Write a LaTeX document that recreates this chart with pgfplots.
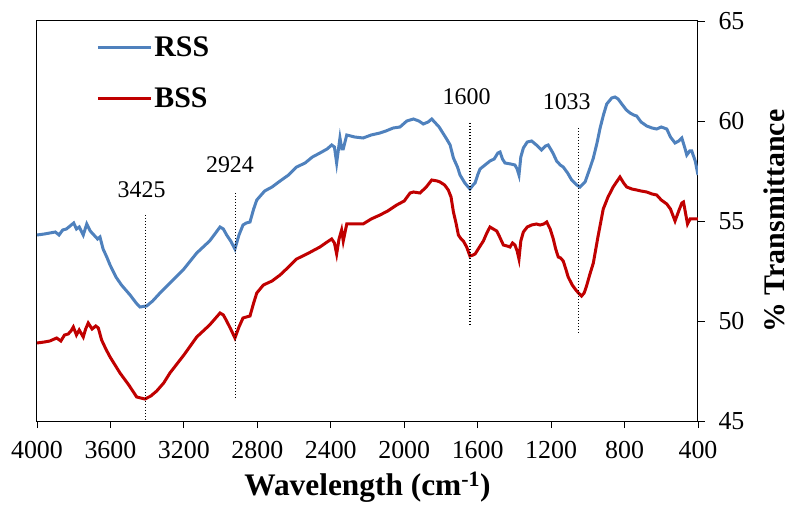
\documentclass[border=0pt]{standalone}
\usepackage{pgfplots}
\pgfplotsset{compat=1.18}
\usepackage{fontspec}
\setmainfont{Liberation Serif}
\definecolor{rssblue}{RGB}{79,129,189}
\definecolor{bssred}{RGB}{192,0,0}
\begin{document}
\begin{tikzpicture}
\useasboundingbox (-37bp,-89bp) rectangle (757bp,421bp);
\begin{axis}[
 scale only axis, width=661bp, height=400bp,
 x dir=reverse, xmin=400, xmax=4000, ymin=45, ymax=65,
 xtick={400,800,...,4000}, ytick={45,50,...,65},
 xtick pos=left, ytick pos=right, yticklabel pos=right,
 tick align=outside, major tick length=7bp,
 tick style={black, line width=0.9bp},
 axis line style={black, line width=1bp},
 scaled x ticks=false, scaled y ticks=false,
 /pgf/number format/assume math mode=true,
 /pgf/number format/1000 sep={},
 ticklabel style={font=\fontsize{26}{30}\selectfont},
 xticklabel style={yshift=-10bp},
 yticklabel style={xshift=10bp},
 xlabel={Wavelength (cm\textsuperscript{-1})},
 ylabel={\% Transmittance},
 xlabel style={at={(rel axis cs:0.5,-0.166)}, anchor=center, font=\bfseries\fontsize{31.5}{37}\selectfont},
 ylabel style={at={(rel axis cs:1.116,0.5)}, anchor=center, font=\bfseries\fontsize{30}{36}\selectfont},
 legend style={at={(rel axis cs:0.085,0.97)}, anchor=north west, draw=none, fill=none,
   font=\bfseries\fontsize{30}{36}\selectfont, row sep=25bp, cells={anchor=west}},
 legend image code/.code={\draw[#1] (0bp,0bp) -- (53bp,0bp);},
]
\addplot[rssblue, line width=3bp] coordinates {
(4000,54.3) (3960,54.35) (3930,54.4) (3900,54.45) (3880,54.3) (3860,54.55) (3840,54.6) (3820,54.75) (3800,54.9) (3785,54.6) (3770,54.7) (3748,54.3) (3729,54.85) (3710,54.5) (3690,54.3) (3670,54.1) (3657,54.2) (3640,53.6) (3620,53.2) (3602,52.8) (3570,52.2) (3540,51.8) (3493,51.3) (3460,50.9) (3439,50.7) (3403,50.75) (3370,51.0) (3330,51.4) (3276,51.9) (3200,52.6) (3130,53.4) (3060,54.0) (3003,54.7) (2985,54.6) (2967,54.3) (2945,54.0) (2922,53.6) (2900,54.3) (2878,54.8) (2860,54.9) (2840,54.95) (2820,55.6) (2803,56.05) (2760,56.5) (2720,56.7) (2676,57.0) (2630,57.3) (2586,57.7) (2540,57.9) (2500,58.2) (2459,58.4) (2420,58.6) (2395,58.8) (2380,58.7) (2368,57.9) (2358,58.6) (2350,59.15) (2340,58.6) (2332,58.6) (2313,59.3) (2270,59.2) (2224,59.15) (2180,59.3) (2132,59.4) (2100,59.5) (2060,59.65) (2023,59.7) (1986,60.0) (1950,60.1) (1920,60.0) (1896,59.85) (1870,59.95) (1850,60.1) (1810,59.7) (1769,59.1) (1750,58.8) (1732,58.15) (1710,57.7) (1696,57.3) (1670,56.9) (1642,56.6) (1625,56.8) (1614,56.9) (1600,57.3) (1587,57.6) (1560,57.8) (1533,58.0) (1510,58.1) (1490,58.4) (1478,58.45) (1465,58.1) (1451,57.9) (1420,57.85) (1397,57.8) (1385,57.6) (1375,57.3) (1365,58.2) (1351,58.65) (1330,58.95) (1306,59.0) (1280,58.8) (1252,58.55) (1230,58.75) (1216,58.8) (1190,58.4) (1170,58.0) (1150,57.8) (1134,57.7) (1110,57.4) (1088,57.05) (1060,56.8) (1043,56.7) (1015,56.95) (990,57.6) (970,58.15) (950,58.9) (933,59.65) (915,60.3) (897,60.85) (870,61.15) (852,61.2) (835,61.1) (815,60.85) (790,60.55) (770,60.4) (750,60.3) (734,60.25) (710,59.95) (679,59.75) (650,59.65) (625,59.6) (600,59.7) (570,59.6) (550,59.2) (525,58.9) (505,59.0) (488,59.15) (470,58.6) (461,58.3) (445,58.5) (434,58.5) (415,58.0) (400,57.3)
};
\addlegendentry{RSS}
\addplot[bssred, line width=3bp] coordinates {
(4000,48.9) (3960,48.95) (3930,49.0) (3893,49.15) (3870,49.0) (3850,49.3) (3830,49.35) (3815,49.5) (3802,49.7) (3785,49.3) (3770,49.55) (3748,49.2) (3735,49.6) (3721,49.9) (3700,49.6) (3680,49.75) (3666,49.65) (3648,49.05) (3625,48.6) (3602,48.2) (3575,47.8) (3548,47.4) (3500,46.8) (3457,46.2) (3412,46.1) (3380,46.25) (3348,46.5) (3310,46.9) (3276,47.4) (3200,48.3) (3130,49.2) (3060,49.8) (3003,50.4) (2985,50.3) (2967,50.0) (2945,49.6) (2922,49.15) (2900,49.7) (2878,50.15) (2860,50.2) (2840,50.25) (2820,50.9) (2803,51.4) (2767,51.8) (2720,52.0) (2676,52.3) (2630,52.7) (2586,53.1) (2520,53.4) (2459,53.7) (2420,53.95) (2395,54.1) (2380,53.9) (2368,53.35) (2355,54.1) (2341,54.55) (2332,54.0) (2313,54.85) (2270,54.85) (2224,54.85) (2180,55.1) (2132,55.3) (2090,55.5) (2041,55.8) (2000,56.0) (1968,56.4) (1950,56.45) (1914,56.4) (1880,56.7) (1850,57.05) (1820,57.0) (1805,56.95) (1780,56.8) (1760,56.55) (1745,56.2) (1732,55.45) (1718,54.9) (1705,54.3) (1690,54.1) (1678,54.0) (1660,53.7) (1642,53.25) (1625,53.3) (1614,53.35) (1590,53.7) (1569,54.0) (1550,54.4) (1533,54.7) (1515,54.6) (1496,54.5) (1480,54.2) (1460,53.8) (1440,53.75) (1424,53.7) (1410,53.9) (1397,53.8) (1385,53.5) (1375,53.1) (1365,54.0) (1351,54.45) (1330,54.7) (1306,54.8) (1280,54.85) (1260,54.8) (1240,54.85) (1224,54.95) (1205,54.6) (1188,54.1) (1175,53.6) (1161,53.2) (1148,53.15) (1134,53.0) (1120,52.6) (1107,52.2) (1085,51.8) (1061,51.5) (1034,51.25) (1020,51.4) (1007,51.75) (990,52.3) (970,52.9) (945,54.2) (916,55.6) (890,56.2) (862,56.7) (840,57.0) (825,57.2) (805,56.9) (788,56.7) (760,56.6) (734,56.55) (710,56.5) (679,56.45) (650,56.35) (625,56.3) (600,56.05) (570,55.85) (550,55.6) (525,55.0) (505,55.5) (488,55.9) (479,55.95) (470,55.5) (457,54.85) (443,55.1) (420,55.1) (400,55.1)
};
\addlegendentry{BSS}
\addplot[black, line width=1.3bp, dash pattern=on 1.5bp off 1.5bp, forget plot] coordinates {(3410,55.3) (3410,45)};
\addplot[black, line width=1.3bp, dash pattern=on 1.5bp off 1.5bp, forget plot] coordinates {(2918,56.4) (2918,46.1)};
\addplot[black, line width=1.3bp, dash pattern=on 1.5bp off 1.5bp, forget plot] coordinates {(1642,59.9) (1642,49.75)};
\addplot[black, line width=1.3bp, dash pattern=on 1.5bp off 1.5bp, forget plot] coordinates {(1051,59.65) (1051,49.4)};
\node[font=\fontsize{24}{28}\selectfont] at (axis cs:3430,56.55) {3425};
\node[font=\fontsize{24}{28}\selectfont] at (axis cs:2949,57.8) {2924};
\node[font=\fontsize{24}{28}\selectfont] at (axis cs:1660,61.2) {1600};
\node[font=\fontsize{24}{28}\selectfont] at (axis cs:1115,60.95) {1033};
\end{axis}
\end{tikzpicture}
\end{document}
